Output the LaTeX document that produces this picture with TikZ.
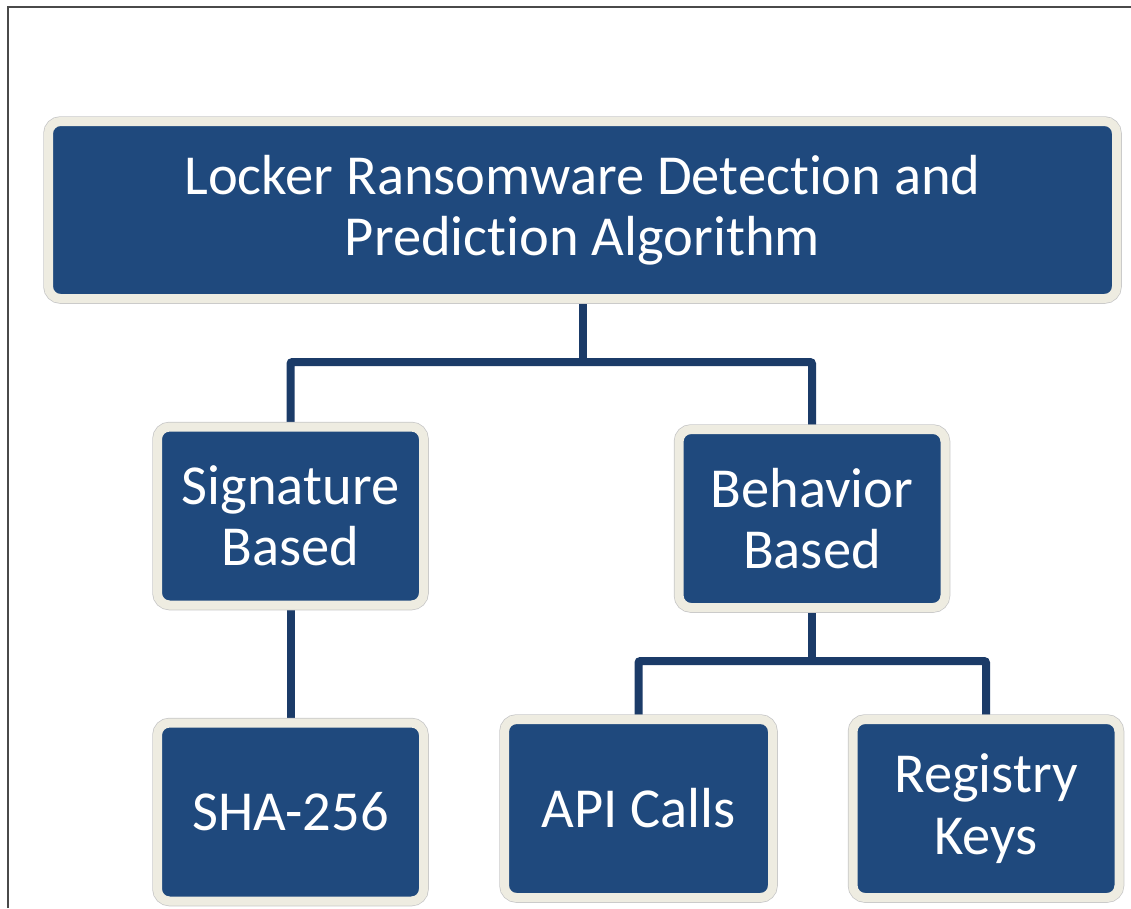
\documentclass[tikz,border=0pt]{standalone}
\usepackage{fontspec}
\setmainfont{Carlito}[Ligatures=NoCommon]
\usepackage{tikz}
\usetikzlibrary{positioning,backgrounds}
\definecolor{boxblue}{HTML}{1F497D}
\definecolor{rim}{HTML}{EEECE1}
\definecolor{wire}{HTML}{1B3B68}
\definecolor{frame}{HTML}{4A4A4A}

\begin{document}
\begin{tikzpicture}[x=1pt,y=-1pt]
\tikzset{box/.style={draw=rim,line width=9pt,fill=boxblue,rounded corners=12pt,text=white,align=center,inner sep=0pt,minimum width=266pt,minimum height=178pt,font=\fontsize{56.5}{61.5}\selectfont,preaction={draw=black!22,line width=10.5pt}},link/.style={draw=wire,line width=8pt,rounded corners=2pt}}
\useasboundingbox (0,0) rectangle (1131,908);
% page frame, top and left edges only
\draw[frame,line width=1.5pt] (8,908) -- (8,7) -- (1131,7);
% tree of boxes
\node[box,minimum width=1068pt,minimum height=177pt] (algo) at (582.5,210) {Locker Ransomware Detection and\\Prediction Algorithm};
\node[box] (sig) at (290.5,516) {Signature\\Based};
\node[box] (beh) at (812,518.5) {Behavior\\Based};
\node[box] (sha) at (290.5,812) {SHA-256};
\node[box,minimum width=268pt] (api) at (638.5,808.5) {API Calls};
\node[box] (reg) at (986,808.5) {Registry\\Keys};
\coordinate (j1) at (582.5,362);
\coordinate (j2) at (812,661);
\begin{scope}[on background layer]
\draw[link] (algo.south) -- (j1);
\draw[link] (sig.north) |- (j1) -| (beh.north);
\draw[link] (sig.south) -- (sha.north);
\draw[link] (beh.south) -- (j2);
\draw[link] (api.north) |- (j2) -| (reg.north);
\end{scope}
\end{tikzpicture}
\end{document}
